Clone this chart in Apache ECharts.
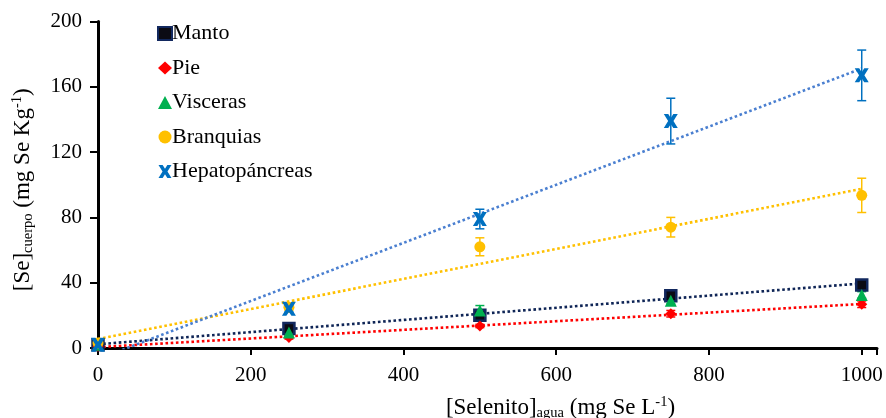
<!DOCTYPE html>
<html>
<head>
<meta charset="utf-8">
<script src="https://cdn.jsdelivr.net/npm/echarts@6/dist/echarts.min.js"></script>
<style>
html,body{margin:0;padding:0;background:#fff;}
#chart{width:886px;height:418px;}
</style>
</head>
<body>
<div id="chart"></div>
<script>
// ---- data ----
const seleniteDoses = [0, 250, 500, 750, 1000];
const mantoValues = [2, 12, 20, 32, 38.6];
const mantoErrors = [1, 1.5, 1.5, 2, 1.5];
const pieValues = [1, 6.5, 13.5, 21, 26.8];
const pieErrors = [0.5, 1, 1, 2, 2];
const viscerasValues = [2, 9.5, 23, 29, 32.5];
const viscerasErrors = [1, 1.5, 3, 2, 2];
const branquiasValues = [3, 25, 62, 74, 93.5];
const branquiasErrors = [1, 2, 5.5, 6, 10.5];
const hepatoValues = [2, 24, 79, 139, 167];
const hepatoErrors = [1, 2, 6, 14, 15.5];
const seriesNames = ['Manto', 'Pie', 'Visceras', 'Branquias', 'Hepatopáncreas'];
const xTicks = [0, 200, 400, 600, 800, 1000];
const yTicks = [0, 40, 80, 120, 160, 200];

const FONT = '"Liberation Serif", "Times New Roman", serif';

function regression(xs, ys) {
  const n = xs.length;
  const mx = xs.reduce((a, b) => a + b, 0) / n;
  const my = ys.reduce((a, b) => a + b, 0) / n;
  let sxy = 0, sxx = 0;
  for (let i = 0; i < n; i++) { sxy += (xs[i] - mx) * (ys[i] - my); sxx += (xs[i] - mx) ** 2; }
  const b = sxy / sxx, a = my - b * mx;
  return [[0, a], [1000, a + b * 1000]];
}

const xPath = 'path://M0,0 L3.2,0 L5,2.8 L6.8,0 L10,0 L6.9,5 L10,10 L6.8,10 L5,7.2 L3.2,10 L0,10 L3.1,5 Z';

const defs = [
  { name: 'Manto', vals: mantoValues, errs: mantoErrors, symbol: 'rect', size: 11, color: '#0b0b14', border: '#12285e', bw: 2.5, errColor: '#12285e', trend: '#0f2556' },
  { name: 'Pie', vals: pieValues, errs: pieErrors, symbol: 'diamond', size: 11, color: '#ff0000', errColor: '#ff0000', trend: '#ff0000' },
  { name: 'Visceras', vals: viscerasValues, errs: viscerasErrors, symbol: 'triangle', size: 12, color: '#00b050', errColor: '#00b050', trend: null },
  { name: 'Branquias', vals: branquiasValues, errs: branquiasErrors, symbol: 'circle', size: 11, color: '#ffc000', errColor: '#ffc000', trend: '#ffc000' },
  { name: 'Hepatopáncreas', vals: hepatoValues, errs: hepatoErrors, symbol: xPath, size: 14, color: '#0070c0', errColor: '#0070c0', trend: '#4a7fd0' }
];

const series = [];
defs.forEach(d => {
  if (!d.trend) return;
  series.push({
    name: d.name + ' tendencia', type: 'line', data: regression(seleniteDoses, d.vals),
    showSymbol: false, symbol: 'none', silent: true, clip: true, z: 2,
    lineStyle: { color: d.trend, width: 2.6, type: [2.6, 2.6] }
  });
});
defs.forEach(d => {
  series.push({
    name: d.name + ' error', type: 'custom', z: 3, silent: true,
    data: seleniteDoses.map((x, i) => [x, d.vals[i] - d.errs[i], d.vals[i] + d.errs[i]]),
    renderItem: function (params, api) {
      const lo = api.coord([api.value(0), api.value(1)]);
      const hi = api.coord([api.value(0), api.value(2)]);
      const w = 4.5;
      const st = { stroke: d.errColor, lineWidth: 1.5, fill: null };
      return { type: 'group', children: [
        { type: 'line', shape: { x1: lo[0], y1: lo[1], x2: hi[0], y2: hi[1] }, style: st },
        { type: 'line', shape: { x1: lo[0] - w, y1: lo[1], x2: lo[0] + w, y2: lo[1] }, style: st },
        { type: 'line', shape: { x1: hi[0] - w, y1: hi[1], x2: hi[0] + w, y2: hi[1] }, style: st }
      ]};
    }
  });
});
defs.forEach((d, k) => {
  series.push({
    name: d.name, type: 'scatter', z: 4 + k,
    data: seleniteDoses.map((x, i) => [x, d.vals[i]]),
    symbol: d.symbol, symbolSize: d.size,
    itemStyle: { color: d.color, borderColor: d.border || d.color, borderWidth: d.bw || 0, opacity: 1 }
  });
});

const richStyles = {
  t: { fontFamily: FONT, fontSize: 23, color: '#000', lineHeight: 26, verticalAlign: 'middle' },
  sub: { fontFamily: FONT, fontSize: 14.5, color: '#000', lineHeight: 26, verticalAlign: 'bottom', padding: [9, 0, 0, 0] },
  sup: { fontFamily: FONT, fontSize: 14.5, color: '#000', lineHeight: 26, verticalAlign: 'top', padding: [0, 0, 7, 0] }
};

const chart = echarts.init(document.getElementById('chart'));
chart.setOption({
  animation: false,
  backgroundColor: '#ffffff',
  grid: { left: 98, right: 9, top: 21.5, bottom: 70, containLabel: false, outerBoundsMode: 'none' },
  legend: {
    data: seriesNames, orient: 'vertical', left: 152, top: 17.5,
    itemGap: 12.5, itemWidth: 14, itemHeight: 13,
    textStyle: { fontFamily: FONT, fontSize: 22, lineHeight: 22, color: '#000', padding: [0, 0, 0, -5] }
  },
  xAxis: {
    type: 'value', min: 0, max: 1020, interval: 200,
    name: '{t|[Selenito]}{sub|agua}{t| (mg Se L}{sup|-1}{t|)}',
    nameLocation: 'middle', nameGap: 47,
    nameTextStyle: { fontFamily: FONT, color: '#000', padding: [0, 0, 0, 146], rich: richStyles },
    axisLine: { show: true, onZero: false, lineStyle: { color: '#000', width: 3 } },
    axisTick: { show: true, inside: false, length: 7, lineStyle: { color: '#000', width: 2 } },
    axisLabel: {
      fontFamily: FONT, fontSize: 21, color: '#000', margin: 17,
      formatter: v => (xTicks.indexOf(v) >= 0 ? String(v) : '')
    },
    splitLine: { show: false }
  },
  yAxis: {
    type: 'value', min: 0, max: 200, interval: 40,
    name: '{t|[Se]}{sub|cuerpo}{t| (mg Se Kg}{sup|-1}{t|)}',
    nameLocation: 'middle', nameGap: 62, nameRotate: 90,
    nameTextStyle: { fontFamily: FONT, color: '#000', padding: [0, 10, 0, 0], rich: richStyles },
    axisLine: { show: true, lineStyle: { color: '#000', width: 3 } },
    axisTick: { show: true, inside: false, length: 8, lineStyle: { color: '#000', width: 2 } },
    axisLabel: {
      fontFamily: FONT, fontSize: 21, color: '#000', margin: 16,
      formatter: v => (yTicks.indexOf(v) >= 0 ? String(v) : '')
    },
    splitLine: { show: false }
  },
  series: series
});
</script>
</body>
</html>
